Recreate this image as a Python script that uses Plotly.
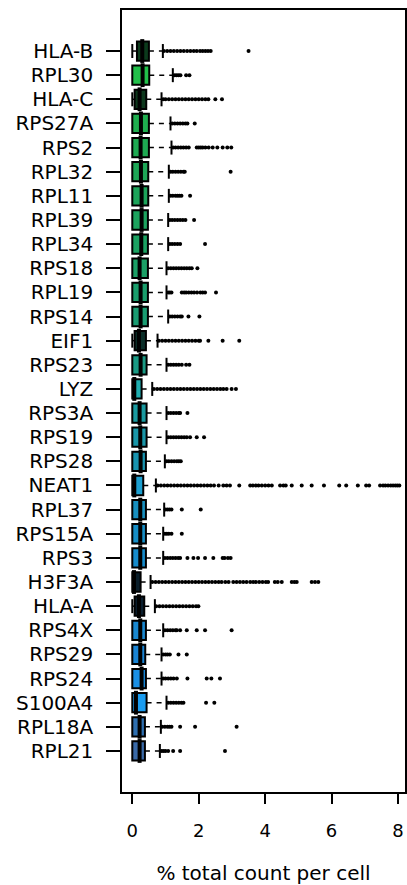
import plotly.graph_objects as go

# Top 30 genes by share of total counts, listed top to bottom
genes = ["HLA-B", "RPL30", "HLA-C", "RPS27A", "RPS2", "RPL32", "RPL11", "RPL39",
         "RPL34", "RPS18", "RPL19", "RPS14", "EIF1", "RPS23", "LYZ", "RPS3A",
         "RPS19", "RPS28", "NEAT1", "RPL37", "RPS15A", "RPS3", "H3F3A", "HLA-A",
         "RPS4X", "RPS29", "RPS24", "S100A4", "RPL18A", "RPL21"]

# Box statistics (% of total count per cell)
lower = [0.00, 0.00, 0.00, 0.00, 0.00, 0.00, 0.00, 0.00, 0.00, 0.00,
         0.00, 0.00, 0.00, 0.00, 0.00, 0.00, 0.00, 0.00, 0.00, 0.00,
         0.00, 0.00, 0.00, 0.00, 0.00, 0.00, 0.00, 0.00, 0.00, 0.00]
q1 = [0.14, 0.00, 0.07, 0.00, 0.00, 0.00, 0.00, 0.00, 0.00, 0.00,
      0.00, 0.00, 0.07, 0.00, 0.00, 0.00, 0.00, 0.00, 0.00, 0.00,
      0.00, 0.00, 0.00, 0.07, 0.00, 0.00, 0.00, 0.00, 0.00, 0.00]
median = [0.30, 0.31, 0.22, 0.26, 0.25, 0.26, 0.28, 0.28, 0.27, 0.22,
          0.25, 0.25, 0.20, 0.25, 0.06, 0.22, 0.24, 0.25, 0.06, 0.24,
          0.24, 0.24, 0.05, 0.20, 0.24, 0.24, 0.28, 0.11, 0.22, 0.22]
q3 = [0.50, 0.51, 0.42, 0.50, 0.50, 0.48, 0.48, 0.47, 0.47, 0.47,
      0.47, 0.47, 0.41, 0.43, 0.28, 0.43, 0.43, 0.41, 0.33, 0.41,
      0.41, 0.41, 0.25, 0.36, 0.41, 0.39, 0.41, 0.43, 0.38, 0.38]
upper = [0.92, 1.22, 0.88, 1.15, 1.18, 1.10, 1.10, 1.08, 1.08, 1.03,
         1.03, 1.08, 0.76, 1.03, 0.60, 1.03, 1.03, 0.98, 0.71, 0.96,
         0.93, 0.93, 0.55, 0.68, 0.93, 0.88, 0.88, 1.03, 0.86, 0.83]

# Cells beyond the upper whisker
outliers = [
    [0.95, 1.05, 1.15, 1.25, 1.35, 1.45, 1.55, 1.65, 1.75, 1.85, 1.94, 2.04, 2.12, 2.20, 2.28, 2.36, 3.50],
    [1.27, 1.33, 1.39, 1.45, 1.62, 1.72],
    [0.93, 1.00, 1.10, 1.20, 1.30, 1.40, 1.50, 1.60, 1.70, 1.80, 1.90, 2.00, 2.10, 2.20, 2.29, 2.50, 2.70],
    [1.20, 1.28, 1.36, 1.44, 1.52, 1.60, 1.66, 1.88],
    [1.23, 1.30, 1.38, 1.46, 1.54, 1.62, 1.70, 1.94, 2.00, 2.06, 2.12, 2.20, 2.30, 2.42, 2.56, 2.72, 2.86, 2.98],
    [1.15, 1.22, 1.30, 1.38, 1.46, 1.54, 1.58, 2.96],
    [1.15, 1.22, 1.30, 1.36, 1.42, 1.48, 1.74],
    [1.13, 1.20, 1.28, 1.36, 1.44, 1.52, 1.60, 1.86],
    [1.13, 1.20, 1.28, 1.36, 1.44, 2.19],
    [1.08, 1.16, 1.24, 1.32, 1.40, 1.48, 1.56, 1.64, 1.72, 1.79, 1.96],
    [1.08, 1.13, 1.18, 1.49, 1.56, 1.62, 1.70, 1.78, 1.86, 1.95, 2.05, 2.12, 2.19, 2.52],
    [1.13, 1.20, 1.28, 1.36, 1.44, 1.49, 1.69, 2.02],
    [0.80, 0.90, 1.00, 1.10, 1.20, 1.30, 1.40, 1.50, 1.60, 1.70, 1.80, 1.90, 2.00, 2.04, 2.29, 2.72, 3.22],
    [1.08, 1.16, 1.24, 1.32, 1.40, 1.49, 1.62, 1.72],
    [0.65, 0.75, 0.85, 0.95, 1.05, 1.15, 1.25, 1.35, 1.45, 1.55, 1.65, 1.75, 1.85, 1.95, 2.05, 2.15,
     2.25, 2.35, 2.45, 2.55, 2.65, 2.74, 2.84, 2.99, 3.12],
    [1.08, 1.16, 1.24, 1.32, 1.40, 1.44, 1.66],
    [1.08, 1.16, 1.24, 1.32, 1.40, 1.48, 1.56, 1.64, 1.74, 1.94, 2.16],
    [1.03, 1.10, 1.18, 1.26, 1.34, 1.40, 1.46],
    [0.76, 0.86, 0.96, 1.06, 1.16, 1.26, 1.36, 1.46, 1.56, 1.66, 1.76, 1.86, 1.96, 2.06, 2.16, 2.26,
     2.36, 2.46, 2.60, 2.74, 2.84, 2.94, 3.22, 3.55, 3.63, 3.72, 3.80, 3.90, 4.00, 4.10, 4.20,
     4.45, 4.55, 4.62, 4.80, 5.10, 5.40, 5.77, 6.23, 6.44, 6.79, 7.04, 7.13, 7.46, 7.55, 7.62,
     7.70, 7.78, 7.85, 7.92, 7.98, 8.04],
    [1.00, 1.06, 1.12, 1.18, 1.49, 2.06],
    [0.98, 1.04, 1.10, 1.18, 1.49],
    [0.98, 1.06, 1.14, 1.22, 1.30, 1.38, 1.44, 1.66, 1.84, 1.98, 2.19, 2.44, 2.72, 2.78, 2.88, 2.96],
    [0.60, 0.70, 0.80, 0.90, 1.00, 1.10, 1.20, 1.30, 1.40, 1.50, 1.60, 1.70, 1.80, 1.90, 2.00, 2.10,
     2.20, 2.30, 2.40, 2.50, 2.60, 2.69, 2.80, 2.90, 3.04, 3.14, 3.24, 3.34, 3.44, 3.55, 3.64,
     3.72, 3.82, 3.92, 4.02, 4.09, 4.29, 4.38, 4.50, 4.80, 4.88, 4.95, 5.40, 5.50, 5.60],
    [0.72, 0.82, 0.92, 1.02, 1.12, 1.22, 1.32, 1.42, 1.52, 1.62, 1.72, 1.82, 1.92, 1.99],
    [0.98, 1.06, 1.14, 1.22, 1.30, 1.34, 1.44, 1.64, 1.94, 2.19, 2.99],
    [0.93, 1.00, 1.06, 1.13, 1.39, 1.64],
    [0.93, 1.00, 1.08, 1.16, 1.24, 1.34, 1.66, 2.24, 2.38, 2.64],
    [1.08, 1.16, 1.24, 1.32, 1.40, 1.48, 1.54, 2.22, 2.47],
    [0.90, 0.98, 1.06, 1.12, 1.18, 1.44, 1.89, 3.14],
    [0.88, 0.94, 1.00, 1.08, 1.23, 1.44, 2.79],
]

# Box fill colours (green -> blue; dark for genes with little spread)
fills = ["#0c3a1c", "#22c04a", "#0c381c", "#1fae4f", "#1eaa52", "#1da656", "#1ca45a", "#1ca35e",
         "#1ba262", "#1ba066", "#1a9e6c", "#1a9c72", "#0a2e28", "#1a9a84", "#1faeb0", "#1a9aa0",
         "#1996a8", "#1894b0", "#1c9fd0", "#1890c0", "#178ec6", "#178ccc", "#0a1e2a", "#0a1e2e",
         "#1a88d0", "#1a84d4", "#1a90e6", "#1a9cf0", "#2e6fb0", "#3a6aa8"]

FONT = "DejaVu Sans"

fig = go.Figure()

# Boxes (no built-in whiskers; those are drawn dashed below)
for i, g in enumerate(genes):
    fig.add_trace(go.Box(
        y=[g], q1=[q1[i]], median=[median[i]], q3=[q3[i]],
        lowerfence=[q1[i]], upperfence=[q3[i]],
        orientation="h", width=0.8, whiskerwidth=0,
        fillcolor=fills[i], line=dict(color="black", width=2),
        boxpoints=False, showlegend=False, hoverinfo="skip",
    ))

# Dashed whiskers, one short trace per segment
for i, g in enumerate(genes):
    segs = [(q3[i], upper[i])]
    if q1[i] > lower[i]:
        segs.append((lower[i], q1[i]))
    for a, b in segs:
        fig.add_trace(go.Scatter(x=[a, b], y=[g, g], mode="lines",
                                 line=dict(color="black", width=1.5, dash="5px,5px"),
                                 showlegend=False, hoverinfo="skip"))

# Whisker staples
sx, sy = [], []
for i, g in enumerate(genes):
    sx.append(upper[i]); sy.append(g)
    if q1[i] > lower[i]:
        sx.append(lower[i]); sy.append(g)
fig.add_trace(go.Scatter(x=sx, y=sy, mode="markers",
                         marker=dict(symbol="line-ns-open", size=10, color="black",
                                     line=dict(color="black", width=2)),
                         showlegend=False, hoverinfo="skip"))

# Thick median bars
fig.add_trace(go.Scatter(x=median, y=genes, mode="markers",
                         marker=dict(symbol="line-ns-open", size=17, color="black",
                                     line=dict(color="black", width=4)),
                         showlegend=False, hoverinfo="skip"))

# Outlying cells
ox, oy = [], []
for i, g in enumerate(genes):
    ox += outliers[i]
    oy += [g] * len(outliers[i])
fig.add_trace(go.Scatter(x=ox, y=oy, mode="markers",
                         marker=dict(symbol="circle", size=4, color="black"),
                         showlegend=False, hoverinfo="skip"))

fig.update_layout(
    width=407, height=885,
    margin=dict(l=122, r=2, t=10, b=93),
    paper_bgcolor="white", plot_bgcolor="white",
    boxmode="overlay",
    font=dict(family=FONT, color="black"),
    xaxis=dict(
        range=[-0.31, 8.21], tickvals=[0, 2, 4, 6, 8],
        ticks="outside", ticklen=10, tickwidth=1.5, tickcolor="black",
        showline=True, mirror=True, linecolor="black", linewidth=1.5,
        showgrid=False, zeroline=False,
        tickfont=dict(family=FONT, size=18, color="black"),
        ticklabelstandoff=12,
        title=dict(text="% total count per cell",
                   font=dict(family=FONT, size=20, color="black"), standoff=27),
        automargin=False,
    ),
    yaxis=dict(
        type="category", categoryorder="array", categoryarray=genes[::-1],
        range=[-1.7, 30.7],
        ticks="outside", ticklen=14, tickwidth=1.5, tickcolor="black",
        showline=True, mirror=True, linecolor="black", linewidth=1.5,
        showgrid=False, zeroline=False,
        tickfont=dict(family=FONT, size=20, color="black"),
        ticklabelstandoff=9,
        automargin=False,
    ),
)

fig.write_html("out.html")
